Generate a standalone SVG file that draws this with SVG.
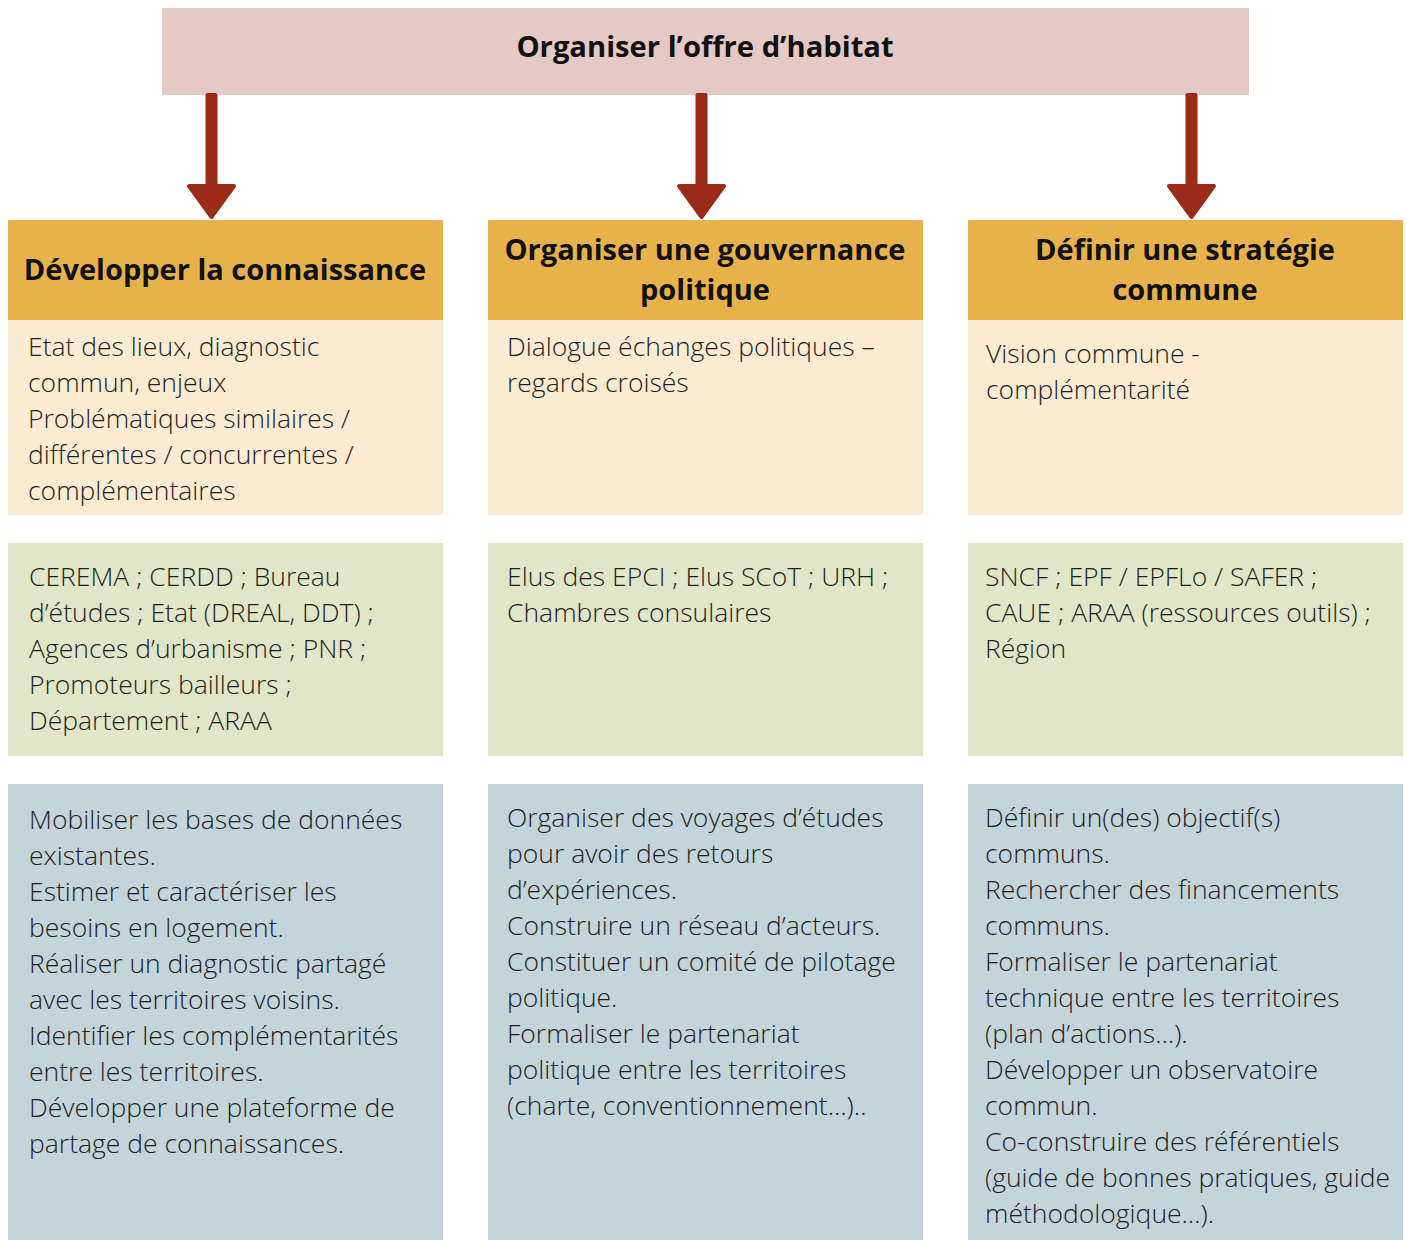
<svg xmlns="http://www.w3.org/2000/svg" width="1407" height="1240" viewBox="0 0 1407 1240">
<defs>
<style>
.title{font-family:"Open Sans","Liberation Sans",sans-serif;font-weight:700;font-size:29.2px;fill:#111;text-anchor:middle}
.hdr{font-family:"Open Sans","Liberation Sans",sans-serif;font-weight:700;font-size:29px;fill:#111;text-anchor:middle}
.body{font-family:"Open Sans","Liberation Sans",sans-serif;font-weight:300;font-size:26.5px;fill:#1e1e1e}
.top{fill:#E5C9C5}
.orange{fill:#E8B24A}
.cream{fill:#FAEBD2}
.green{fill:#E1E6C8}
.blue{fill:#C3D5DB}
.arrow{fill:#9C2A18;stroke:#9C2A18;stroke-width:4;stroke-linejoin:round}
</style>
</defs>
<rect width="1407" height="1240" fill="#fff"/>
<g id="top">
<rect class="top" x="162" y="8" width="1087" height="87"/>
<text class="title" x="705" y="57">Organiser l’offre d’habitat</text>
</g>
<g id="connectors">
<path class="arrow" d="M207.5 95 L215.5 95 L215.5 186 L234 186 L211.5 217 L189 186 L207.5 186 Z"/>
<path class="arrow" d="M697.5 95 L705.5 95 L705.5 186 L724 186 L701.5 217 L679 186 L697.5 186 Z"/>
<path class="arrow" d="M1187.5 95 L1195.5 95 L1195.5 186 L1214 186 L1191.5 217 L1169 186 L1187.5 186 Z"/>
</g>
<g id="col1-header">
<rect class="orange" x="8" y="220" width="435" height="100"/>
<text class="hdr" x="225" y="280">Développer la connaissance</text>
</g>
<g id="col2-header">
<rect class="orange" x="488" y="220" width="435" height="100"/>
<text class="hdr" x="705" y="260">Organiser une gouvernance</text>
<text class="hdr" x="705" y="300">politique</text>
</g>
<g id="col3-header">
<rect class="orange" x="968" y="220" width="435" height="100"/>
<text class="hdr" x="1185" y="260">Définir une stratégie</text>
<text class="hdr" x="1185" y="300">commune</text>
</g>
<g id="col1-issues">
<rect class="cream" x="8" y="320" width="435" height="195"/>
<text class="body" x="28" y="356">Etat des lieux, diagnostic</text>
<text class="body" x="28" y="392">commun, enjeux</text>
<text class="body" x="28" y="428">Problématiques similaires /</text>
<text class="body" x="28" y="464">différentes / concurrentes /</text>
<text class="body" x="28" y="500">complémentaires</text>
</g>
<g id="col2-issues">
<rect class="cream" x="488" y="320" width="435" height="195"/>
<text class="body" x="507" y="356">Dialogue échanges politiques –</text>
<text class="body" x="507" y="392">regards croisés</text>
</g>
<g id="col3-issues">
<rect class="cream" x="968" y="320" width="435" height="195"/>
<text class="body" x="986" y="363">Vision commune -</text>
<text class="body" x="986" y="399">complémentarité</text>
</g>
<g id="col1-actors">
<rect class="green" x="8" y="543" width="435" height="213"/>
<text class="body" x="29" y="586">CEREMA ; CERDD ; Bureau</text>
<text class="body" x="29" y="622">d’études ; Etat (DREAL, DDT) ;</text>
<text class="body" x="29" y="658">Agences d’urbanisme ; PNR ;</text>
<text class="body" x="29" y="694">Promoteurs bailleurs ;</text>
<text class="body" x="29" y="730">Département ; ARAA</text>
</g>
<g id="col2-actors">
<rect class="green" x="488" y="543" width="435" height="213"/>
<text class="body" x="507" y="586">Elus des EPCI ; Elus SCoT ; URH ;</text>
<text class="body" x="507" y="622">Chambres consulaires</text>
</g>
<g id="col3-actors">
<rect class="green" x="968" y="543" width="435" height="213"/>
<text class="body" x="985" y="586">SNCF ; EPF / EPFLo / SAFER ;</text>
<text class="body" x="985" y="622">CAUE ; ARAA (ressources outils) ;</text>
<text class="body" x="985" y="658">Région</text>
</g>
<g id="col1-actions">
<rect class="blue" x="8" y="784" width="435" height="456"/>
<text class="body" x="29" y="829">Mobiliser les bases de données</text>
<text class="body" x="29" y="865">existantes.</text>
<text class="body" x="29" y="901">Estimer et caractériser les</text>
<text class="body" x="29" y="937">besoins en logement.</text>
<text class="body" x="29" y="973">Réaliser un diagnostic partagé</text>
<text class="body" x="29" y="1009">avec les territoires voisins.</text>
<text class="body" x="29" y="1045">Identifier les complémentarités</text>
<text class="body" x="29" y="1081">entre les territoires.</text>
<text class="body" x="29" y="1117">Développer une plateforme de</text>
<text class="body" x="29" y="1153">partage de connaissances.</text>
</g>
<g id="col2-actions">
<rect class="blue" x="488" y="784" width="435" height="456"/>
<text class="body" x="507" y="827">Organiser des voyages d’études</text>
<text class="body" x="507" y="863">pour avoir des retours</text>
<text class="body" x="507" y="899">d’expériences.</text>
<text class="body" x="507" y="935">Construire un réseau d’acteurs.</text>
<text class="body" x="507" y="971">Constituer un comité de pilotage</text>
<text class="body" x="507" y="1007">politique.</text>
<text class="body" x="507" y="1043">Formaliser le partenariat</text>
<text class="body" x="507" y="1079">politique entre les territoires</text>
<text class="body" x="507" y="1115">(charte, conventionnement…)..</text>
</g>
<g id="col3-actions">
<rect class="blue" x="968" y="784" width="435" height="456"/>
<text class="body" x="985" y="827">Définir un(des) objectif(s)</text>
<text class="body" x="985" y="863">communs.</text>
<text class="body" x="985" y="899">Rechercher des financements</text>
<text class="body" x="985" y="935">communs.</text>
<text class="body" x="985" y="971">Formaliser le partenariat</text>
<text class="body" x="985" y="1007">technique entre les territoires</text>
<text class="body" x="985" y="1043">(plan d’actions…).</text>
<text class="body" x="985" y="1079">Développer un observatoire</text>
<text class="body" x="985" y="1115">commun.</text>
<text class="body" x="985" y="1151">Co-construire des référentiels</text>
<text class="body" x="985" y="1187">(guide de bonnes pratiques, guide</text>
<text class="body" x="985" y="1223">méthodologique…).</text>
</g>
</svg>
